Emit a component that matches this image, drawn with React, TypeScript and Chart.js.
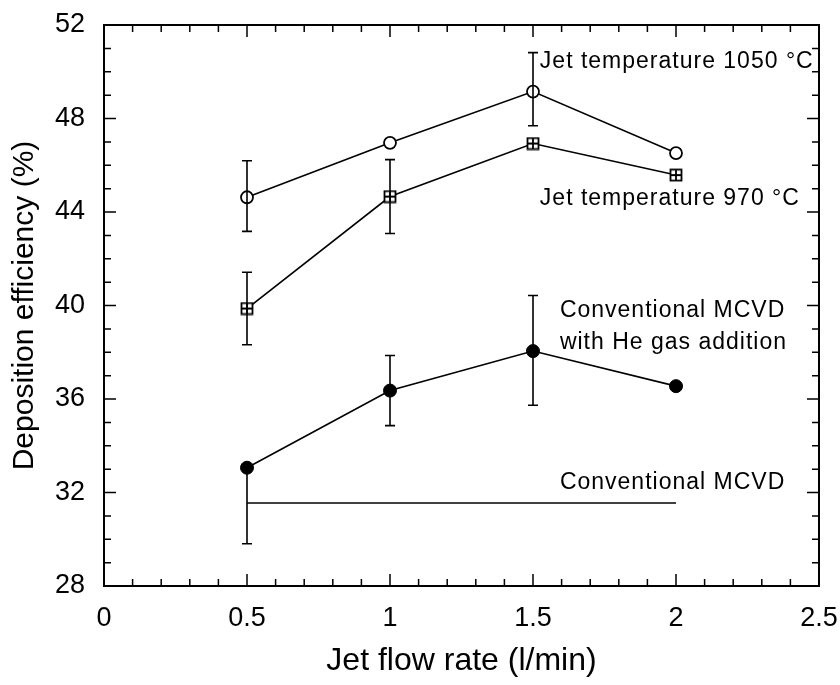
import React, { useEffect, useRef } from "react";
import { Chart, registerables } from "chart.js";

Chart.register(...registerables);

// ---- data ----
const flowRates = [0.5, 1.0, 1.5, 2.0];
const eff1050 = [44.63, 46.96, 49.15, 46.52];
const eff970 = [39.87, 44.66, 46.93, 45.58];
const effHe = [33.06, 36.36, 38.05, 36.55];
const err1050Up = [1.56, 0, 1.67, 0];
const err1050Down = [1.46, 0, 1.46, 0];
const err970Up = [1.55, 1.58, 0, 0];
const err970Down = [1.55, 1.58, 0, 0];
const errHeUp = [0, 1.5, 2.38, 0];
const errHeDown = [3.25, 1.5, 2.32, 0];
const conventionalFlow = [0.5, 2.0];
const conventionalEff = [31.55, 31.55];

const xTickLabels = ["0", "0.5", "1", "1.5", "2", "2.5"];
const yTickLabels = ["28", "32", "36", "40", "44", "48", "52"];

const annotationTexts = [
  "Jet temperature 1050 °C",
  "Jet temperature 970 °C",
  "Conventional MCVD",
  "with He gas addition",
  "Conventional MCVD",
];
const annotationX = [1.524, 1.524, 1.594, 1.594, 1.594];
const annotationY = [50.42, 44.57, 39.79, 38.42, 32.4];

const FONT = "'Liberation Sans', Arial, sans-serif";

function makeSquareCross(): HTMLCanvasElement {
  const c = document.createElement("canvas");
  c.width = 14;
  c.height = 14;
  const g = c.getContext("2d")!;
  g.fillStyle = "#fff";
  g.fillRect(1, 1, 12, 12);
  g.strokeStyle = "#000";
  g.lineWidth = 1.8;
  g.strokeRect(1.5, 1.5, 11, 11);
  g.beginPath();
  g.moveTo(7, 1.5);
  g.lineTo(7, 12.5);
  g.moveTo(1.5, 7);
  g.lineTo(12.5, 7);
  g.stroke();
  return c;
}

const framePlugin = {
  id: "frame",
  afterDraw(chart: any) {
    const { ctx, chartArea: a, scales } = chart;
    const xs = scales.x;
    const ys = scales.y;
    ctx.save();
    ctx.strokeStyle = "#000";
    ctx.lineWidth = 2;
    ctx.strokeRect(a.left, a.top, a.right - a.left, a.bottom - a.top);
    ctx.lineWidth = 1.5;
    ctx.beginPath();
    for (let i = 0; i <= 25; i++) {
      const v = i / 10;
      const px = xs.getPixelForValue(v);
      const len = i % 5 === 0 ? 12 : 7;
      ctx.moveTo(px, a.bottom);
      ctx.lineTo(px, a.bottom - len);
      ctx.moveTo(px, a.top);
      ctx.lineTo(px, a.top + len);
    }
    for (let v = 28; v <= 52; v++) {
      const py = ys.getPixelForValue(v);
      const len = (v - 28) % 4 === 0 ? 12 : 7;
      ctx.moveTo(a.left, py);
      ctx.lineTo(a.left + len, py);
      ctx.moveTo(a.right, py);
      ctx.lineTo(a.right - len, py);
    }
    ctx.stroke();
    ctx.restore();
  },
};

const errorPlugin = {
  id: "errorbars",
  afterDatasetsDraw(chart: any) {
    const { ctx, scales } = chart;
    const xs = scales.x;
    const ys = scales.y;
    const sets = [
      [eff1050, err1050Up, err1050Down],
      [eff970, err970Up, err970Down],
      [effHe, errHeUp, errHeDown],
    ];
    ctx.save();
    ctx.strokeStyle = "#000";
    ctx.lineWidth = 1.6;
    ctx.beginPath();
    for (const [vals, up, down] of sets) {
      flowRates.forEach((f, i) => {
        if (!up[i] && !down[i]) return;
        const px = xs.getPixelForValue(f);
        const top = ys.getPixelForValue(vals[i] + up[i]);
        const bot = ys.getPixelForValue(vals[i] - down[i]);
        ctx.moveTo(px, top);
        ctx.lineTo(px, bot);
        if (up[i]) {
          ctx.moveTo(px - 5, top);
          ctx.lineTo(px + 5, top);
        }
        if (down[i]) {
          ctx.moveTo(px - 5, bot);
          ctx.lineTo(px + 5, bot);
        }
      });
    }
    ctx.stroke();
    ctx.restore();
  },
};

const textPlugin = {
  id: "annotations",
  afterDraw(chart: any) {
    const { ctx, scales } = chart;
    ctx.save();
    ctx.fillStyle = "#000";
    ctx.font = `23px ${FONT}`;
    (ctx as any).letterSpacing = "1px";
    ctx.textAlign = "left";
    ctx.textBaseline = "middle";
    annotationTexts.forEach((t, i) => {
      ctx.fillText(t, scales.x.getPixelForValue(annotationX[i]), scales.y.getPixelForValue(annotationY[i]));
    });
    ctx.restore();
  },
};

export default function App() {
  const ref = useRef<HTMLCanvasElement>(null);
  useEffect(() => {
    const sq = makeSquareCross();
    const toPts = (xsArr: number[], ysArr: number[]) => xsArr.map((x, i) => ({ x, y: ysArr[i] }));
    const chart = new Chart(ref.current!, {
      type: "line",
      data: {
        datasets: [
          {
            label: "Jet temperature 1050 °C",
            data: toPts(flowRates, eff1050),
            borderColor: "#000",
            borderWidth: 1.6,
            pointStyle: "circle",
            pointRadius: 6,
            pointBorderWidth: 1.8,
            pointBackgroundColor: "#fff",
            pointBorderColor: "#000",
          },
          {
            label: "Jet temperature 970 °C",
            data: toPts(flowRates, eff970),
            borderColor: "#000",
            borderWidth: 1.6,
            pointStyle: sq as any,
            pointRadius: 7,
          },
          {
            label: "Conventional MCVD with He gas addition",
            data: toPts(flowRates, effHe),
            borderColor: "#000",
            borderWidth: 1.6,
            pointStyle: "circle",
            pointRadius: 6.5,
            pointBorderWidth: 1,
            pointBackgroundColor: "#000",
            pointBorderColor: "#000",
          },
          {
            label: "Conventional MCVD",
            data: toPts(conventionalFlow, conventionalEff),
            borderColor: "#000",
            borderWidth: 1.6,
            pointRadius: 0,
          },
        ],
      },
      options: {
        animation: false,
        responsive: false,
        layout: { padding: { top: 25, right: 21, left: 0, bottom: 0 } },
        plugins: { legend: { display: false }, tooltip: { enabled: false } },
        scales: {
          x: {
            type: "linear",
            min: 0,
            max: 2.5,
            grid: { display: false, drawTicks: false },
            border: { display: false },
            ticks: {
              stepSize: 0.5,
              autoSkip: false,
              maxRotation: 0,
              padding: 16,
              color: "#000",
              font: { size: 27, family: FONT },
              callback: (_v: any, i: number) => xTickLabels[i],
            },
            title: {
              display: true,
              text: "Jet flow rate (l/min)",
              color: "#000",
              font: { size: 32, family: FONT },
              padding: { top: 0, bottom: 5 },
            },
            afterFit: (s: any) => {
              s.height = 99;
              s.paddingLeft = 0;
              s.paddingRight = 0;
            },
          },
          y: {
            type: "linear",
            min: 28,
            max: 52,
            grid: { display: false, drawTicks: false },
            border: { display: false },
            ticks: {
              stepSize: 4,
              autoSkip: false,
              padding: 19,
              color: "#000",
              font: { size: 27, family: FONT },
              callback: (_v: any, i: number) => yTickLabels[i],
            },
            title: {
              display: true,
              text: "Deposition efficiency (%)",
              color: "#000",
              font: { size: 30, family: FONT },
              padding: { top: 7, bottom: 0 },
            },
            afterFit: (s: any) => {
              s.width = 104;
              s.paddingTop = 0;
              s.paddingBottom = 0;
            },
          },
        },
      },
      plugins: [framePlugin, errorPlugin, textPlugin],
    });
    return () => chart.destroy();
  }, []);
  return (
    <div style={{ position: "absolute", left: 0, top: 0, width: 840, height: 685, background: "#fff" }}>
      <canvas ref={ref} width={840} height={685} />
    </div>
  );
}
